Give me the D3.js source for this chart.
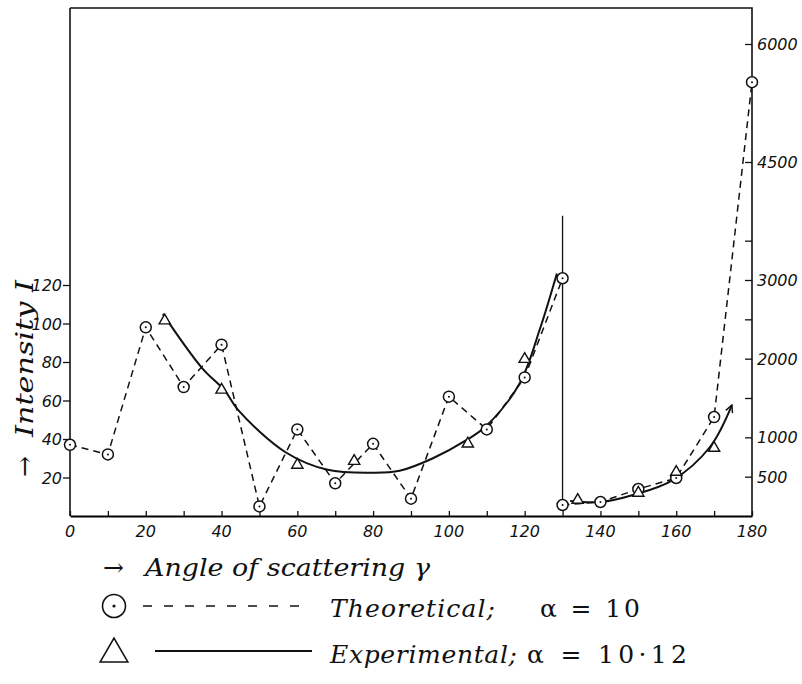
<!DOCTYPE html>
<html>
<head>
<meta charset="utf-8">
<script src="https://cdn.jsdelivr.net/npm/d3@7"></script>
<style>
    body { margin: 0; background: #fff; }
    svg { display: block; }
    .tick-label { font-family: "DejaVu Sans", sans-serif; font-style: italic; font-size: 16px; fill: #111; }
    .title { font-family: "DejaVu Serif", serif; font-style: italic; font-size: 25px; fill: #111; }
    .upright { font-family: "DejaVu Serif", serif; font-size: 25px; fill: #111; }
</style>
</head>
<body>
<svg class="canvas" width="802" height="684"></svg>
<script>
// angle in degrees, intensity on left scale (0..130°) and right scale (130..180°)
const theoryLeft = [
    [0, 37], [10, 32], [20, 98], [30, 67], [40, 89], [50, 5], [60, 45],
    [70, 17], [80, 37.5], [90, 9], [100, 62], [110, 45], [120, 72], [130, 123.5]
];
const theoryRight = [
    [130, 140], [140, 178], [150, 343], [160, 483], [170, 1258], [180, 5515]
];
const expLeft = [[25, 101], [40, 65], [60, 26], [75, 28], [105, 37], [120, 81]];
const expRight = [[134, 190], [150, 280], [160, 546], [170, 851]];

// smooth experimental curves
const expCurveLeft = [
    [24.5, 105], [34.8, 77], [40.9, 65], [44.4, 55], [57, 33], [68, 24], [80, 22.5],
    [87, 23.5], [95.8, 30], [104.7, 39.5], [110, 47], [118.7, 69], [124, 97], [128.5, 126]
];
const expCurveRight = [
    [132, 190], [140, 178], [148.6, 267], [159.1, 457], [168.9, 877], [174.7, 1410]
];
const divider = [[130, 156], [130, 6]];

const xTicks = d3.range(0, 181, 10);
const xLabels = [0, 20, 40, 60, 80, 100, 120, 140, 160, 180];
const leftTicks = [20, 40, 60, 80, 100, 120];
const rightTicks = [500, 1000, 1500, 2000, 2500, 3000, 3500, 4500, 6000];
const rightLabels = [500, 1000, 2000, 3000, 4500, 6000];

const x = d3.scaleLinear().domain([0, 180]).range([70, 752]);
const yL = d3.scaleLinear().domain([0, 120]).range([516, 285]);
const yR = d3.scaleLinear().domain([0, 6000]).range([516, 44]);

const canvas = d3.select('.canvas');
const ink = '#111';

// frame
const frame = canvas.append('g').attr('stroke', ink).attr('fill', 'none').attr('stroke-width', 1.6);
frame.append('path').attr('d', `M${x(0)},${yR(6000) - 36}H${x(180)}V${yL(0)}`);
frame.append('path').attr('d', `M${x(0)},${yR(6000) - 36}V${yL(0)}`);

// axes
const bottomAxis = d3.axisBottom(x).tickValues(xTicks).tickSizeInner(-5).tickSizeOuter(0).tickFormat('');
canvas.append('g').attr('transform', `translate(0, ${yL(0)})`).call(bottomAxis)
    .call(g => g.select('.domain').attr('stroke-width', 1.8));
canvas.append('g').selectAll('text').data(xLabels).enter().append('text')
    .attr('class', 'tick-label').attr('x', d => x(d)).attr('y', yL(0) + 21)
    .attr('text-anchor', 'middle').text(d => d);

const leftAxis = d3.axisLeft(yL).tickValues(leftTicks).tickSize(7).tickFormat('');
canvas.append('g').attr('transform', `translate(${x(0)}, 0)`).call(leftAxis)
    .call(g => g.select('.domain').remove());
canvas.append('g').selectAll('text').data(leftTicks).enter().append('text')
    .attr('class', 'tick-label').attr('x', x(0) - 8).attr('y', d => yL(d) + 6)
    .attr('text-anchor', 'end').text(d => d);

const rightAxis = d3.axisRight(yR).tickValues(rightTicks).tickSize(-7).tickFormat('');
canvas.append('g').attr('transform', `translate(${x(180)}, 0)`).call(rightAxis)
    .call(g => g.select('.domain').remove());
canvas.append('g').selectAll('text').data(rightLabels).enter().append('text')
    .attr('class', 'tick-label').attr('x', x(180) + 5).attr('y', d => yR(d) + 6)
    .text(d => d);
canvas.selectAll('.tick line').attr('stroke', ink).attr('stroke-width', 1.3);

// divider
canvas.append('path').datum(divider)
    .attr('d', d3.line().x(d => x(d[0])).y(d => yL(d[1])))
    .attr('stroke', ink).attr('stroke-width', 1.3).attr('fill', 'none');

// theoretical dashed
const lineL = d3.line().x(d => x(d[0])).y(d => yL(d[1]));
const lineR = d3.line().x(d => x(d[0])).y(d => yR(d[1]));
[[theoryLeft, lineL], [theoryRight, lineR]].forEach(([data, line]) => {
    canvas.append('path').datum(data).attr('d', line)
        .attr('stroke', ink).attr('stroke-width', 1.5).attr('fill', 'none')
        .attr('stroke-dasharray', '7,5');
});

// experimental solid curves
canvas.append('defs').append('marker')
    .attr('id', 'arrow').attr('viewBox', '0 0 10 10').attr('refX', 9).attr('refY', 5)
    .attr('markerWidth', 9).attr('markerHeight', 9).attr('orient', 'auto')
    .attr('markerUnits', 'userSpaceOnUse')
    .append('path').attr('d', 'M1,1L9,5L1,9').attr('fill', 'none').attr('stroke', ink).attr('stroke-width', 1.6);

canvas.append('path').datum(expCurveLeft)
    .attr('d', lineL.curve(d3.curveCatmullRom))
    .attr('stroke', ink).attr('stroke-width', 2).attr('fill', 'none');
canvas.append('path').datum(expCurveRight)
    .attr('d', lineR.curve(d3.curveCatmullRom))
    .attr('stroke', ink).attr('stroke-width', 2).attr('fill', 'none')
    .attr('marker-end', 'url(#arrow)');

// markers
const circlePts = theoryLeft.map(d => [x(d[0]), yL(d[1])])
    .concat(theoryRight.map(d => [x(d[0]), yR(d[1])]));
const triPts = expLeft.map(d => [x(d[0]), yL(d[1])])
    .concat(expRight.map(d => [x(d[0]), yR(d[1])]));

const circles = canvas.append('g').selectAll('g').data(circlePts).enter().append('g')
    .attr('transform', d => `translate(${d[0]}, ${d[1]})`);
circles.append('circle').attr('r', 5.5).attr('fill', '#fff').attr('stroke', ink).attr('stroke-width', 1.5);
circles.append('circle').attr('r', 1).attr('fill', ink);

const tri = d3.symbol().type(d3.symbolTriangle).size(55);
canvas.append('g').selectAll('path').data(triPts).enter().append('path')
    .attr('d', tri).attr('transform', d => `translate(${d[0]}, ${d[1] - 1})`)
    .attr('fill', '#fff').attr('stroke', ink).attr('stroke-width', 1.4);

// y title
const yTitle = canvas.append('g').attr('transform', `translate(33, 477) rotate(-90)`);
yTitle.append('text').attr('class', 'upright').attr('x', 0).attr('y', 0).text('→');
yTitle.append('text').attr('class', 'title').attr('x', 40).attr('y', 0)
    .attr('textLength', 157).attr('lengthAdjust', 'spacingAndGlyphs').text('Intensity I');

// x title and legend
canvas.append('text').attr('class', 'upright').attr('x', 103).attr('y', 576).text('→');
canvas.append('text').attr('class', 'title').attr('x', 145).attr('y', 576)
    .attr('textLength', 285).attr('lengthAdjust', 'spacingAndGlyphs').text('Angle of scattering γ');

const legend = canvas.append('g');
legend.append('circle').attr('cx', 114).attr('cy', 606).attr('r', 11.5)
    .attr('fill', 'none').attr('stroke', ink).attr('stroke-width', 1.6);
legend.append('circle').attr('cx', 114).attr('cy', 606).attr('r', 1.6).attr('fill', ink);
legend.append('line').attr('x1', 143).attr('x2', 307).attr('y1', 606).attr('y2', 606)
    .attr('stroke', ink).attr('stroke-width', 1.5).attr('stroke-dasharray', '9,12');
legend.append('text').attr('class', 'title').attr('x', 330).attr('y', 617)
    .attr('textLength', 165).attr('lengthAdjust', 'spacing').text('Theoretical;');
legend.append('text').attr('class', 'upright').attr('x', 540).attr('y', 617)
    .attr('textLength', 100).attr('lengthAdjust', 'spacing').text('α = 10');

legend.append('path').attr('d', d3.symbol().type(d3.symbolTriangle).size(330))
    .attr('transform', 'translate(114, 654)')
    .attr('fill', 'none').attr('stroke', ink).attr('stroke-width', 1.6);
legend.append('line').attr('x1', 155).attr('x2', 312).attr('y1', 651).attr('y2', 651)
    .attr('stroke', ink).attr('stroke-width', 1.8);
legend.append('text').attr('class', 'title').attr('x', 330).attr('y', 663)
    .attr('textLength', 187).attr('lengthAdjust', 'spacing').text('Experimental;');
legend.append('text').attr('class', 'upright').attr('x', 527).attr('y', 663)
    .attr('textLength', 160).attr('lengthAdjust', 'spacing').text('α = 10·12');
</script>
</body>
</html>
